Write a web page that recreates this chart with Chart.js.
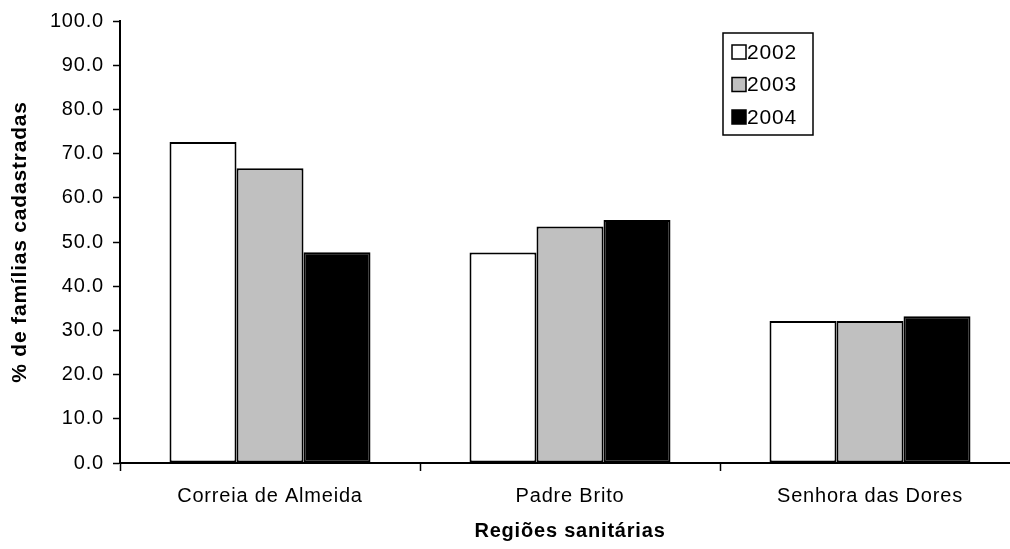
<!DOCTYPE html>
<html>
<head>
<meta charset="utf-8">
<script src="https://cdn.jsdelivr.net/npm/chart.js@4.4.1/dist/chart.umd.min.js"></script>
<style>
    html, body { margin: 0; padding: 0; background: #fff; overflow: hidden; }
    #wrap { width: 1020px; height: 549px; position: relative; }
</style>
</head>
<body>
<div id="wrap"><canvas id="familyChart"></canvas></div>
<script>
// Regions and yearly shares of registered families
const regions = ['Correia de Almeida', 'Padre Brito', 'Senhora das Dores'];
const years = ['2002', '2003', '2004'];
const values2002 = [72.6, 47.6, 32.1];
const values2003 = [66.7, 53.5, 32.1];
const values2004 = [47.7, 55.0, 33.2];
const yTicks = [0, 10, 20, 30, 40, 50, 60, 70, 80, 90, 100];

const FONT = "'Liberation Sans', Arial, sans-serif";
const SPACING = '0.8px';

// Slightly spaced lettering for every label on the canvas
const spacingPlugin = {
    id: 'spacing',
    beforeLayout(chart) { chart.ctx.letterSpacing = SPACING; },
    beforeDraw(chart) { chart.ctx.letterSpacing = SPACING; }
};

// Boxed legend drawn inside the plot, top right
const boxLegend = {
    id: 'boxLegend',
    afterDraw(chart) {
        const ctx = chart.ctx;
        const area = chart.chartArea;
        const left = area.left + 603;
        const top = area.top + 12;
        ctx.save();
        ctx.letterSpacing = SPACING;
        ctx.lineWidth = 1.5;
        ctx.strokeStyle = '#000';
        ctx.strokeRect(left, top, 90, 102);
        ctx.font = '21px ' + FONT;
        ctx.textBaseline = 'middle';
        chart.data.datasets.forEach((ds, i) => {
            const cy = top + 19 + i * 32.5;
            ctx.fillStyle = ds.backgroundColor;
            ctx.fillRect(left + 9, cy - 7, 14, 14);
            ctx.strokeRect(left + 9, cy - 7, 14, 14);
            ctx.fillStyle = '#000';
            ctx.fillText(ds.label, left + 24, cy + 1);
        });
        ctx.restore();
    }
};

function initChart() {
    const ctx = document.getElementById('familyChart').getContext('2d');

    const series = [values2002, values2003, values2004];
    const fills = ['#ffffff', '#c0c0c0', '#000000'];

    const data = {
        labels: regions,
        datasets: years.map((y, i) => ({
            label: y,
            data: series[i],
            backgroundColor: fills[i],
            borderColor: '#000',
            borderWidth: 2,
            borderSkipped: false,
            categoryPercentage: 0.67,
            barPercentage: 1.0
        }))
    };

    const config = {
        type: 'bar',
        data: data,
        options: {
            responsive: true,
            maintainAspectRatio: false,
            animation: false,
            layout: {
                padding: { top: 21, right: 0, bottom: 0, left: 0 }
            },
            plugins: {
                legend: { display: false },
                tooltip: { enabled: false }
            },
            scales: {
                x: {
                    grid: {
                        offset: true,
                        drawOnChartArea: false,
                        drawTicks: true,
                        tickLength: 8,
                        tickWidth: 1.5,
                        tickColor: '#000'
                    },
                    border: { display: true, color: '#000', width: 2 },
                    ticks: {
                        color: '#000',
                        padding: 13,
                        font: { family: FONT, size: 20 }
                    },
                    title: {
                        display: true,
                        text: 'Regiões sanitárias',
                        color: '#000',
                        padding: { top: 0, bottom: 6 },
                        font: { family: FONT, size: 20, weight: 'bold' }
                    },
                    afterFit(scale) { scale.height = 86; }
                },
                y: {
                    min: 0,
                    max: 100,
                    afterBuildTicks(scale) {
                        scale.ticks = yTicks.map(v => ({ value: v }));
                    },
                    grid: {
                        drawOnChartArea: false,
                        tickLength: 7,
                        tickWidth: 1.5,
                        tickColor: '#000'
                    },
                    border: { display: true, color: '#000', width: 2 },
                    ticks: {
                        color: '#000',
                        padding: 9,
                        font: { family: FONT, size: 20 },
                        callback: function(value) {
                            return Number(value).toFixed(1);
                        }
                    },
                    title: {
                        display: true,
                        text: '% de famílias cadastradas',
                        color: '#000',
                        padding: { top: 8, bottom: 0 },
                        font: { family: FONT, size: 21, weight: 'bold' }
                    },
                    afterFit(scale) { scale.width = 120; }
                }
            }
        },
        plugins: [spacingPlugin, boxLegend]
    };

    new Chart(ctx, config);
}

initChart();
</script>
</body>
</html>
